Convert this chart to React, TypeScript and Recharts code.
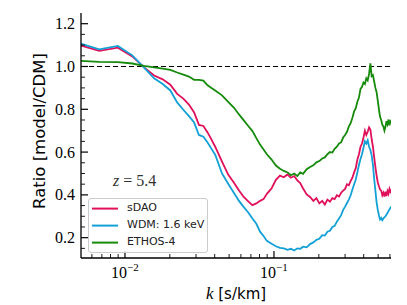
import React from "react"
import { LineChart, Line, XAxis, YAxis, ReferenceLine, Legend, Customized } from "recharts"

// k [s/km] sample points (linear FFT-like spacing)
const kVals = [
  0.00448, 0.00672, 0.00896, 0.0112, 0.01344, 0.01568, 0.01792, 0.02016, 0.0224, 0.02464,
  0.02688, 0.02912, 0.03136, 0.0336, 0.03584, 0.03808, 0.04032, 0.0448, 0.04928, 0.05376,
  0.05824, 0.06272, 0.0672, 0.07168, 0.07616, 0.08064, 0.08512, 0.0896, 0.09632, 0.10304,
  0.10976, 0.11648, 0.1232, 0.12992, 0.13664, 0.14336, 0.15008, 0.1568, 0.16576, 0.17472,
  0.18368, 0.19264, 0.2016, 0.21056, 0.21952, 0.22848, 0.23744, 0.2464, 0.25536, 0.26432,
  0.27328, 0.28224, 0.2912, 0.30016, 0.30912, 0.31808, 0.32704, 0.336, 0.34496, 0.35392,
  0.36288, 0.37184, 0.3808, 0.38976, 0.39872, 0.40768, 0.41664, 0.4256, 0.43456, 0.44352,
  0.45248, 0.46144, 0.4704, 0.47936, 0.48832, 0.49728, 0.50624, 0.5152, 0.52416, 0.53312,
  0.54208, 0.55104, 0.56, 0.56896, 0.57792, 0.58688, 0.59584, 0.6048, 0.61376,
]

const sdaoVals = [
  1.109, 1.073, 1.088, 1.047, 0.996, 0.958, 0.94, 0.915, 0.872, 0.85,
  0.822, 0.785, 0.727, 0.722, 0.692, 0.658, 0.625, 0.555, 0.495, 0.458,
  0.42, 0.39, 0.37, 0.352, 0.36, 0.372, 0.38, 0.405, 0.43, 0.47,
  0.49, 0.482, 0.495, 0.48, 0.488, 0.468, 0.455, 0.43, 0.402, 0.39,
  0.372, 0.385, 0.36, 0.372, 0.355, 0.378, 0.368, 0.385, 0.38, 0.398,
  0.392, 0.41, 0.42, 0.428, 0.45, 0.445, 0.465, 0.48, 0.505, 0.525,
  0.565, 0.59, 0.625, 0.64, 0.668, 0.7, 0.68, 0.695, 0.715, 0.705,
  0.66, 0.625, 0.575, 0.53, 0.49, 0.458, 0.44, 0.425, 0.42, 0.398,
  0.41, 0.392, 0.415, 0.395, 0.418, 0.405, 0.428, 0.415, 0.425,
]

const wdmVals = [
  1.118, 1.08, 1.096, 1.052, 0.995, 0.945, 0.918, 0.888, 0.832, 0.798,
  0.768, 0.738, 0.68, 0.672, 0.645, 0.615, 0.588, 0.5, 0.452, 0.41,
  0.372, 0.343, 0.318, 0.29, 0.265, 0.228, 0.208, 0.185, 0.172, 0.16,
  0.152, 0.15, 0.143, 0.148, 0.14, 0.15, 0.148, 0.158, 0.155, 0.17,
  0.178, 0.19, 0.195, 0.212, 0.21, 0.228, 0.232, 0.25, 0.255, 0.275,
  0.29, 0.305, 0.33, 0.345, 0.362, 0.378, 0.398, 0.425, 0.45, 0.472,
  0.505, 0.54, 0.568, 0.59, 0.62, 0.65, 0.64, 0.655, 0.625, 0.61,
  0.585, 0.54, 0.475, 0.42, 0.365, 0.33, 0.305, 0.285, 0.292, 0.282,
  0.29, 0.295, 0.3, 0.308, 0.315, 0.325, 0.332, 0.34, 0.345,
]

const ethosVals = [
  1.028, 1.022, 1.02, 1.014, 1.003, 0.996, 0.99, 0.984, 0.972, 0.962,
  0.953, 0.938, 0.937, 0.934, 0.912, 0.9, 0.888, 0.865, 0.835, 0.808,
  0.776, 0.748, 0.722, 0.698, 0.665, 0.635, 0.612, 0.59, 0.565, 0.537,
  0.522, 0.512, 0.505, 0.492, 0.5, 0.488, 0.505, 0.498, 0.52, 0.53,
  0.538, 0.552, 0.558, 0.57, 0.575, 0.59, 0.6, 0.598, 0.615, 0.625,
  0.64, 0.645, 0.668, 0.68, 0.695, 0.72, 0.735, 0.76, 0.79, 0.805,
  0.835, 0.855, 0.895, 0.905, 0.925, 0.918, 0.945, 0.935, 0.965, 1.015,
  0.955, 0.96, 0.93, 0.9, 0.88, 0.84, 0.8, 0.765, 0.75, 0.728,
  0.72, 0.7, 0.718, 0.745, 0.73, 0.752, 0.725, 0.745, 0.74,
]

const seriesNames = ["sDAO", "WDM: 1.6 keV", "ETHOS-4"]

const xMajor = [0.01, 0.1]
const xMajorExp = ["−2", "−1"]
const xMinor = [0.006, 0.007, 0.008, 0.009, 0.02, 0.03, 0.04, 0.05, 0.06, 0.07, 0.08, 0.09, 0.2, 0.3, 0.4, 0.5, 0.6]
const yMajor = [0.2, 0.4, 0.6, 0.8, 1.0, 1.2]
const yMinor = [0.15, 0.25, 0.3, 0.35, 0.45, 0.5, 0.55, 0.65, 0.7, 0.75, 0.85, 0.9, 0.95, 1.05, 1.1, 1.15]

const RED = "#e0105a"
const BLUE = "#12a0d6"
const GREEN = "#158a0b"

const data = kVals.map((k, i) => ({ k, sdao: sdaoVals[i], wdm: wdmVals[i], ethos: ethosVals[i] }))
const xTicks = [...xMinor, ...xMajor].sort((a, b) => a - b)
const yTicks = [...yMinor, ...yMajor].sort((a, b) => a - b)

const SERIF = "'Liberation Serif', 'DejaVu Serif', serif"
const SANS = "'DejaVu Sans', sans-serif"

const BottomTick = ({ x, y, payload }: any) => {
  const idx = xMajor.indexOf(payload.value)
  const major = idx >= 0
  return (
    <g>
      <line x1={x} x2={x} y1={y} y2={y - (major ? 7 : 4)} stroke="#000" strokeWidth={major ? 1.2 : 0.9} />
      {major && (
        <text x={x} y={y + 20} textAnchor="middle" fontFamily={SERIF} fontSize={16} fill="#000">
          10
          <tspan fontSize={11} dy={-7}>{xMajorExp[idx]}</tspan>
        </text>
      )}
    </g>
  )
}

const TopTick = ({ x, y, payload }: any) => {
  const major = xMajor.includes(payload.value)
  return <line x1={x} x2={x} y1={y} y2={y + (major ? 7 : 4)} stroke="#000" strokeWidth={major ? 1.2 : 0.9} />
}

const LeftTick = ({ x, y, payload }: any) => {
  const major = yMajor.includes(payload.value)
  return (
    <g>
      <line x1={x} x2={x + (major ? 7 : 4)} y1={y} y2={y} stroke="#000" strokeWidth={major ? 1.2 : 0.9} />
      {major && (
        <text x={x - 6} y={y + 5.5} textAnchor="end" fontFamily={SERIF} fontSize={16} fill="#000">
          {payload.value.toFixed(1)}
        </text>
      )}
    </g>
  )
}

const RightTick = ({ x, y, payload }: any) => {
  const major = yMajor.includes(payload.value)
  return <line x1={x} x2={x - (major ? 7 : 4)} y1={y} y2={y} stroke="#000" strokeWidth={major ? 1.2 : 0.9} />
}

const renderLegend = ({ payload }: any) => {
  const items = (payload || [])
    .filter((e: any) => seriesNames.includes(e.value))
    .sort((a: any, b: any) => seriesNames.indexOf(a.value) - seriesNames.indexOf(b.value))
  return (
    <div
      style={{
        position: "relative",
        width: 120,
        height: 55,
        boxSizing: "border-box",
        border: "1px solid #cccccc",
        borderRadius: 3,
        background: "rgba(255,255,255,0.8)",
      }}
    >
      {items.map((entry: any, i: number) => (
        <div key={i} style={{ position: "absolute", left: 0, top: 1 + i * 17.2, height: 17.2, width: 118 }}>
          <svg width={34} height={17.2} style={{ position: "absolute", left: 0, top: 0 }}>
            <line x1={3} x2={29} y1={8.6} y2={8.6} stroke={entry.color} strokeWidth={2} />
          </svg>
          <span
            style={{
              position: "absolute",
              left: 38,
              top: 1.5,
              fontFamily: SANS,
              fontSize: 11,
              lineHeight: "14px",
              color: "#222",
              whiteSpace: "nowrap",
            }}
          >
            {entry.value}
          </span>
        </div>
      ))}
    </div>
  )
}

const Labels = () => (
  <g>
    <text
      x={45}
      y={131}
      transform="rotate(-90, 45, 131)"
      textAnchor="middle"
      fontFamily={SANS}
      fontSize={16.5}
      fill="#000"
    >
      Ratio [model/CDM]
    </text>
    <text x={236} y={299} textAnchor="middle" fill="#000">
      <tspan fontFamily={SERIF} fontStyle="italic" fontSize={17}>k</tspan>
      <tspan fontFamily={SANS} fontSize={15}> [s/km]</tspan>
    </text>
    <text x={113} y={186} fill="#333" fontFamily={SERIF} fontSize={16}>
      <tspan fontStyle="italic">z</tspan>
      <tspan> = 5.4</tspan>
    </text>
  </g>
)

export default function App() {
  return (
    <div style={{ position: "absolute", left: 0, top: 0, background: "#fff" }}>
      <LineChart width={407} height={305} data={data} margin={{ top: 13, right: 16, bottom: 0, left: 0 }}>
        <XAxis
          dataKey="k"
          type="number"
          scale="log"
          domain={[0.00507, 0.61]}
          allowDataOverflow
          ticks={xTicks}
          interval={0}
          height={47}
          tickSize={0}
          tickMargin={0}
          tickLine={false}
          tick={<BottomTick />}
          axisLine={{ stroke: "#000", strokeWidth: 1.3 }}
        />
        <XAxis
          xAxisId="top"
          dataKey="k"
          type="number"
          scale="log"
          orientation="top"
          domain={[0.00507, 0.61]}
          allowDataOverflow
          ticks={xTicks}
          interval={0}
          height={0}
          tickSize={0}
          tickMargin={0}
          tickLine={false}
          tick={<TopTick />}
          axisLine={{ stroke: "#000", strokeWidth: 1.3 }}
        />
        <YAxis
          type="number"
          domain={[0.105, 1.25]}
          allowDataOverflow
          ticks={yTicks}
          interval={0}
          width={81}
          tickSize={0}
          tickMargin={0}
          tickLine={false}
          tick={<LeftTick />}
          axisLine={{ stroke: "#000", strokeWidth: 1.3 }}
        />
        <YAxis
          yAxisId="right"
          orientation="right"
          type="number"
          domain={[0.105, 1.25]}
          allowDataOverflow
          ticks={yTicks}
          interval={0}
          width={0}
          tickSize={0}
          tickMargin={0}
          tickLine={false}
          tick={<RightTick />}
          axisLine={{ stroke: "#000", strokeWidth: 1.3 }}
        />
        <ReferenceLine y={1} stroke="#000" strokeWidth={1.2} strokeDasharray="5 3" />
        <Line
          xAxisId="top"
          yAxisId="right"
          dataKey="wdm"
          stroke="none"
          dot={false}
          legendType="none"
          isAnimationActive={false}
        />
        <Line name="sDAO" dataKey="sdao" stroke={RED} strokeWidth={1.8} dot={false} isAnimationActive={false} />
        <Line name="WDM: 1.6 keV" dataKey="wdm" stroke={BLUE} strokeWidth={1.8} dot={false} isAnimationActive={false} />
        <Line name="ETHOS-4" dataKey="ethos" stroke={GREEN} strokeWidth={1.8} dot={false} isAnimationActive={false} />
        <Legend
          layout="vertical"
          align="center"
          verticalAlign="middle"
          content={renderLegend}
          wrapperStyle={{ position: "absolute", left: 88, top: 197.5, width: 120, height: 55 }}
        />
        <Customized component={Labels} />
      </LineChart>
    </div>
  )
}
